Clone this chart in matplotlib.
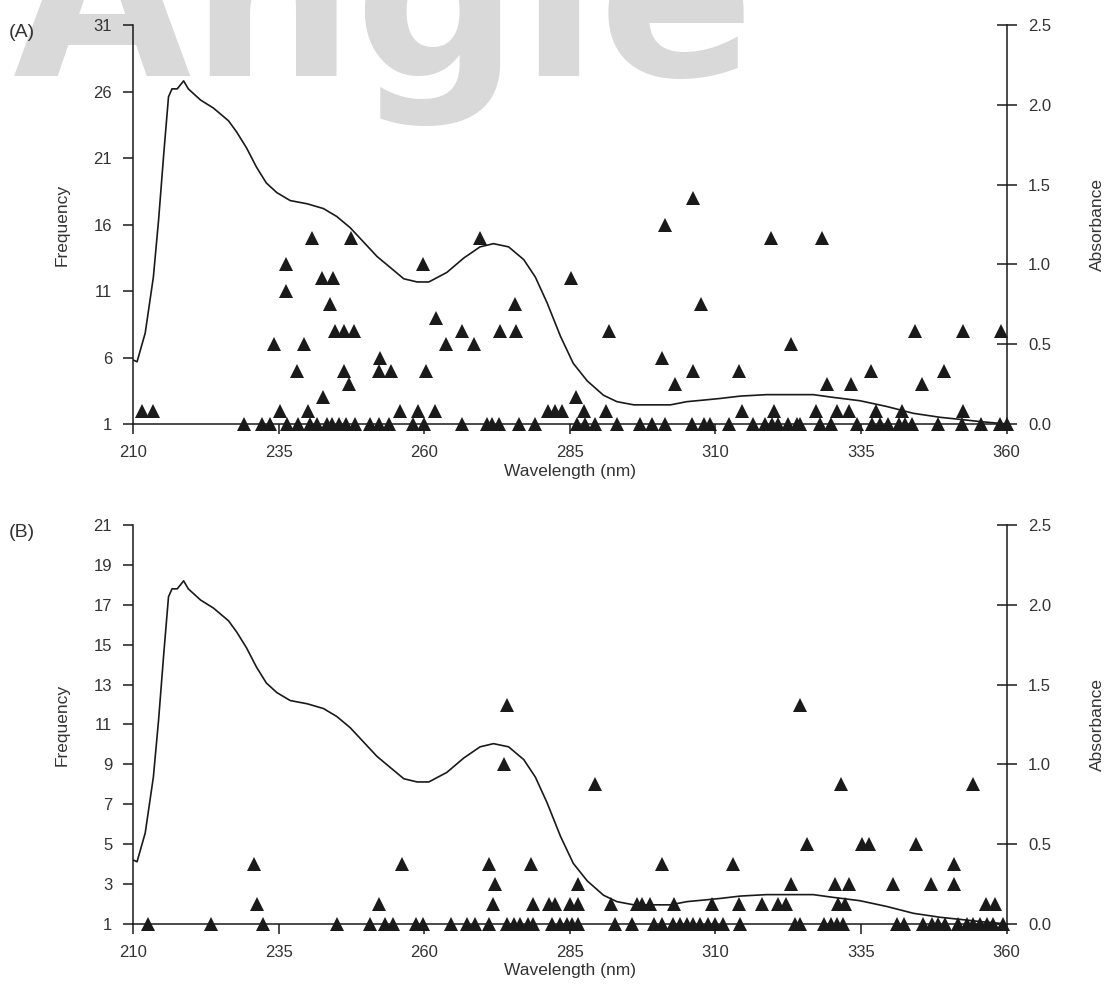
import matplotlib
matplotlib.use('Agg')
import matplotlib.pyplot as plt
from matplotlib.ticker import FormatStrFormatter

plt.rcParams['font.family'] = ['Liberation Sans', 'DejaVu Sans']
plt.rcParams['font.size'] = 12

# absorbance spectrum (same curve in both panels)
spec_wl = [210.1, 210.7, 212.1, 213.5, 214.4, 215.3, 216.1, 216.7, 217.6, 218.7, 219.5,
           221.6, 223.8, 226.4, 227.8, 229.5, 231.2, 232.9, 234.7, 237.0, 239.9, 242.7,
           245.0, 247.3, 249.6, 251.9, 254.2, 256.5, 258.8, 260.8, 263.9, 266.8, 269.6,
           271.9, 274.5, 277.1, 279.1, 281.1, 283.4, 285.6, 288.0, 290.8, 293.1, 296.0,
           302.3, 305.1, 308.0, 310.8, 314.3, 318.8, 326.8, 330.2, 334.8, 339.4, 344.0,
           348.6, 352.0, 355.5, 358.9, 360.0]
spec_abs = [0.40, 0.39, 0.57, 0.92, 1.28, 1.70, 2.05, 2.10, 2.10, 2.15, 2.10,
            2.03, 1.98, 1.90, 1.83, 1.73, 1.61, 1.51, 1.45, 1.40, 1.38, 1.35,
            1.30, 1.23, 1.14, 1.05, 0.98, 0.91, 0.89, 0.89, 0.95, 1.04, 1.11,
            1.13, 1.11, 1.03, 0.92, 0.76, 0.55, 0.38, 0.27, 0.18, 0.14, 0.12,
            0.12, 0.14, 0.15, 0.16, 0.175, 0.184, 0.184, 0.167, 0.146, 0.11, 0.067,
            0.042, 0.029, 0.015, 0.004, 0.0]

# panel A: frequency -> wavelengths of the triangles
peaks_a = {
    1: [229.1, 232.1, 233.5, 236.4, 238.4, 240.4, 241.6, 243.4, 244.2, 245.3, 246.6,
        248.2, 250.7, 252.3, 253.9, 258.1, 259.9, 266.5, 270.8, 271.6, 272.8, 276.2,
        279.1, 286.2, 287.6, 289.4, 293.1, 297.1, 299.1, 301.4, 306.0, 308.0, 309.1,
        312.4, 316.4, 318.6, 319.7, 320.8, 322.4, 324.0, 324.6, 327.9, 329.9, 334.4,
        336.9, 338.3, 339.6, 341.6, 342.6, 343.7, 348.3, 352.3, 355.6, 358.9, 360.0],
    2: [211.6, 213.4, 235.3, 240.0, 255.9, 259.0, 261.9, 281.2, 282.5, 283.7, 287.4,
        291.2, 314.5, 320.1, 327.3, 330.9, 332.9, 337.6, 342.0, 352.6],
    3: [242.6, 286.1],
    4: [247.1, 303.0, 329.1, 333.3, 345.5],
    5: [238.2, 246.2, 252.2, 254.3, 260.3, 306.1, 314.1, 336.7, 349.2],
    6: [252.5, 300.8],
    7: [234.3, 239.3, 263.7, 268.5, 323.0],
    8: [244.7, 246.3, 247.9, 266.5, 273.1, 275.8, 291.8, 344.2, 352.6, 359.1],
    9: [262.1],
    10: [243.8, 275.6, 307.5],
    11: [236.3],
    12: [242.4, 244.3, 285.2],
    13: [236.3, 259.8],
    15: [240.7, 247.5, 269.6, 319.5, 328.3],
    16: [301.4],
    18: [306.1],
}

# panel B
peaks_b = {
    1: [212.6, 223.4, 232.3, 245.0, 250.7, 253.3, 254.6, 258.6, 259.8, 264.6, 267.3,
        268.8, 271.1, 274.2, 275.5, 276.5, 277.9, 278.7, 281.9, 283.4, 284.5, 285.4,
        286.5, 292.7, 295.7, 299.4, 300.8, 302.8, 304.0, 305.1, 306.2, 307.4, 308.8,
        310.0, 311.3, 314.3, 323.7, 324.6, 328.6, 329.9, 330.9, 332.0, 341.2, 342.4,
        345.6, 347.2, 348.3, 349.5, 351.7, 353.2, 354.3, 355.5, 356.6, 357.7, 359.4],
    2: [231.3, 252.2, 271.8, 278.7, 281.4, 282.5, 285.0, 286.5, 292.0, 296.5, 297.4,
        298.7, 302.9, 309.5, 314.0, 318.0, 320.7, 322.2, 331.0, 332.3, 356.5, 358.0],
    3: [272.2, 286.5, 323.0, 330.5, 333.0, 340.5, 347.0, 350.9],
    4: [230.7, 256.2, 271.2, 278.4, 300.8, 313.0, 351.0],
    5: [325.8, 335.1, 336.4, 344.5],
    8: [289.3, 331.5, 354.2],
    9: [273.7],
    12: [274.3, 324.6],
}

ink = '#1a1a1a'
txt = '#333333'


def draw_panel(fig, rect, peaks, ymax, ystep, tag):
    ax = fig.add_axes(rect)
    ax.set_facecolor('none')
    for f, wls in peaks.items():
        ax.plot(wls, [f] * len(wls), ls='none', marker='^', ms=10.5, mew=0,
                color=ink, clip_on=False, zorder=3)
    ax.set_xlim(210, 360)
    ax.set_ylim(1, ymax)
    ax.set_xticks(range(210, 361, 25))
    ax.set_yticks(range(1, ymax + 1, ystep))
    ax.spines['top'].set_visible(False)
    ax.spines['right'].set_visible(False)
    for s in ('left', 'bottom'):
        ax.spines[s].set_color(ink)
        ax.spines[s].set_linewidth(1.1)
    ax.tick_params(direction='out', length=7, width=1.1, color=ink,
                   labelcolor=txt, labelsize=12, pad=8)
    ax.set_xlabel('Wavelength (nm)', color=txt, fontsize=12.5)
    ax.set_ylabel('Frequency', color=txt, fontsize=12.5)
    ax.xaxis.set_label_coords(0.5, -0.099)
    ax.yaxis.set_label_coords(-0.073, 0.5)

    ax2 = ax.twinx()
    ax2.set_facecolor('none')
    ax2.plot(spec_wl, spec_abs, color=ink, lw=1.2)
    ax2.set_ylim(0, 2.5)
    ax2.set_yticks([0, 0.5, 1.0, 1.5, 2.0, 2.5])
    ax2.yaxis.set_major_formatter(FormatStrFormatter('%.1f'))
    for s in ('top', 'left', 'bottom'):
        ax2.spines[s].set_visible(False)
    ax2.spines['right'].set_color(ink)
    ax2.spines['right'].set_linewidth(1.1)
    ax2.tick_params(direction='inout', length=14, width=1.1, color=ink,
                    labelcolor=txt, labelsize=12, pad=8.5)
    ax2.set_ylabel('Absorbance', color=txt, fontsize=12.5)
    ax2.yaxis.set_label_coords(1.095, 0.5)

    top = rect[1] + rect[3]
    fig.text(0.008, top - 0.008, tag, color=txt, fontsize=14, va='center', ha='left')
    return ax


fig = plt.figure(figsize=(11.1, 9.93), dpi=100)

# faint watermark behind the top panel
fig.text(0.012, 0.9235, 'Angle', fontsize=166, fontweight='bold', color='#d9d9d9',
         family='DejaVu Sans', ha='left', va='baseline', zorder=-1)

draw_panel(fig, [0.1198, 0.573, 0.787, 0.4018], peaks_a, 31, 5, '(A)')
draw_panel(fig, [0.1198, 0.0695, 0.787, 0.4018], peaks_b, 21, 2, '(B)')

fig.savefig('out.png', dpi=100)
